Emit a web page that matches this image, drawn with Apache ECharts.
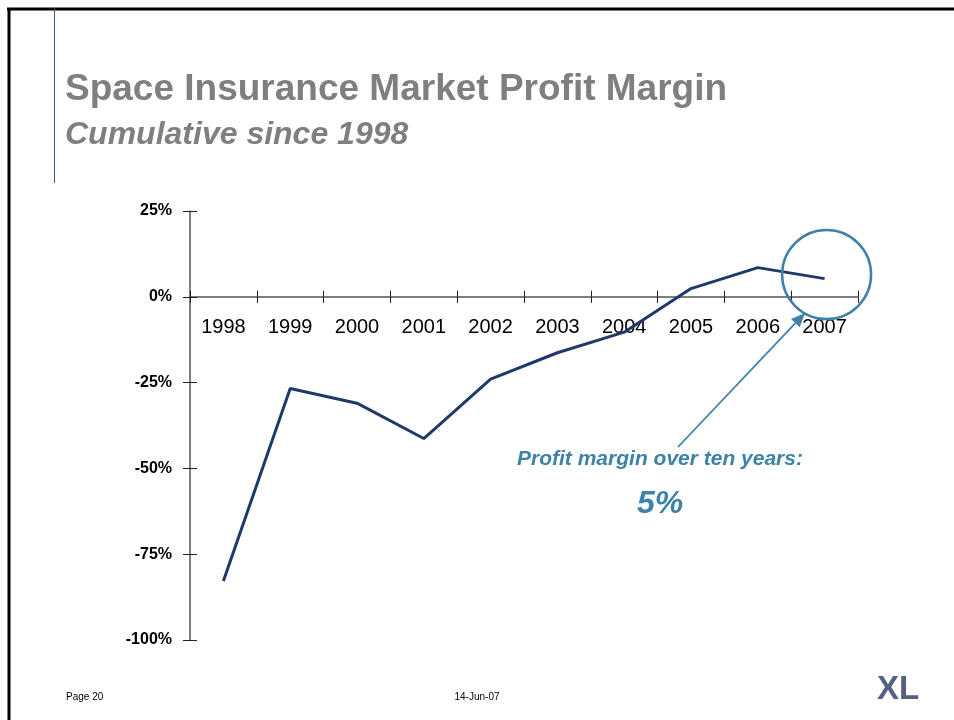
<!DOCTYPE html>
<html>
<head>
<meta charset="utf-8">
<title>Space Insurance Market Profit Margin</title>
<script src="https://cdn.jsdelivr.net/npm/echarts@6/dist/echarts.min.js"></script>
<style>
  html, body { margin: 0; padding: 0; background: #fff; }
  #chart { width: 954px; height: 720px; }
</style>
</head>
<body>
<div id="chart"></div>
<script>
// 数据：各年份累计利润率（%）
var years = ['1998', '1999', '2000', '2001', '2002', '2003', '2004', '2005', '2006', '2007']
var margin = [-82.8, -26.7, -31.0, -41.3, -24.0, -16.3, -10.3, 2.4, 8.5, 5.3]
var yTicks = [-100, -75, -50, -25, 0, 25]

var blue = '#3f82a8'
var font = 'Arial, Liberation Sans, sans-serif'

// 绘图区位置
var gLeft = 190, gTop = 211, gWidth = 668, gHeight = 429
var yMin = yTicks[0], yMax = yTicks[yTicks.length - 1]
// 0% 所在的像素位置，x 轴画在这里
var zeroY = gTop + gHeight * (yMax - 0) / (yMax - yMin)

var myChart = echarts.init(document.getElementById('chart'))

var option = {
  animation: false,
  grid: {
    left: gLeft,
    top: gTop,
    width: gWidth,
    height: gHeight,
    outerBoundsMode: 'none'
  },
  xAxis: [
    {
      type: 'category',
      data: years,
      position: 'bottom',
      offset: -(gTop + gHeight - zeroY),
      boundaryGap: true,
      axisLine: { show: true, onZero: false, lineStyle: { color: '#555', width: 1.5 } },
      axisTick: { show: true, interval: 0, alignWithLabel: false, length: 6, lineStyle: { color: '#222', width: 1 } },
      axisLabel: { margin: 21, color: '#000', fontFamily: font, fontSize: 20 }
    },
    {
      // 只用来画轴线上方的那半截刻度
      type: 'category',
      data: years,
      position: 'top',
      offset: -(zeroY - gTop),
      boundaryGap: true,
      axisLine: { show: false, onZero: false },
      axisTick: { show: true, interval: 0, alignWithLabel: false, length: 6, lineStyle: { color: '#222', width: 1 } },
      axisLabel: { show: false }
    }
  ],
  yAxis: [
    {
      type: 'value',
      min: yMin,
      max: yMax,
      interval: 25,
      splitLine: { show: false },
      axisLine: { show: true, onZero: false, lineStyle: { color: '#555', width: 1.5 } },
      axisTick: { show: true, length: 7, lineStyle: { color: '#222' } },
      axisLabel: {
        margin: 18,
        color: '#000',
        fontFamily: font,
        fontSize: 16,
        fontWeight: 'bold',
        formatter: '{value}%'
      }
    },
    {
      // 轴右侧的半截刻度
      type: 'value',
      position: 'right',
      offset: -gWidth,
      min: yMin,
      max: yMax,
      interval: 25,
      splitLine: { show: false },
      axisLine: { show: false, onZero: false },
      axisTick: { show: true, length: 7, lineStyle: { color: '#222' } },
      axisLabel: { show: false }
    }
  ],
  series: [
    {
      type: 'line',
      data: margin,
      showSymbol: false,
      symbol: 'none',
      lineStyle: { color: '#1f3a68', width: 3 }
    }
  ]
}
myChart.setOption(option)

// 标注：圆圈跟着 2007 年那个点走
var p = myChart.convertToPixel({ seriesIndex: 0 }, [years.length - 1, margin[margin.length - 1]])
var cx = p[0] + 2
var cy = p[1] - 4
// 箭头从说明文字指向圆圈
var ax0 = 678, ay0 = 447, ax1 = 805, ay1 = 313
var len = Math.sqrt((ax1 - ax0) * (ax1 - ax0) + (ay1 - ay0) * (ay1 - ay0))
var dx = (ax1 - ax0) / len, dy = (ay1 - ay0) / len
var bx = ax1 - 14 * dx, by = ay1 - 14 * dy

myChart.setOption({
  graphic: [
    // 页面边框
    { type: 'line', shape: { x1: 7, y1: 9, x2: 954, y2: 9 }, style: { stroke: '#000', lineWidth: 3 } },
    { type: 'line', shape: { x1: 9, y1: 8, x2: 9, y2: 720 }, style: { stroke: '#000', lineWidth: 3 } },
    { type: 'line', shape: { x1: 54.5, y1: 9, x2: 54.5, y2: 183 }, style: { stroke: '#3b5b95', lineWidth: 1 } },
    // 标题
    { type: 'text', x: 65, y: 90, style: { text: 'Space Insurance Market Profit Margin', font: 'bold 37px ' + font, fill: '#7f7f7f', align: 'left', verticalAlign: 'middle' } },
    { type: 'text', x: 65, y: 135, style: { text: 'Cumulative since 1998', font: 'italic bold 32px ' + font, fill: '#7f7f7f', align: 'left', verticalAlign: 'middle' } },
    // 圆圈和箭头
    { type: 'circle', z: 10, shape: { cx: cx, cy: cy, r: 44.5 }, style: { fill: 'none', stroke: blue, lineWidth: 2.5 } },
    { type: 'line', z: 10, shape: { x1: ax0, y1: ay0, x2: bx, y2: by }, style: { stroke: blue, lineWidth: 1.8 } },
    { type: 'polygon', z: 10, shape: { points: [[ax1, ay1], [bx + 6 * dy, by - 6 * dx], [bx - 6 * dy, by + 6 * dx]] }, style: { fill: blue } },
    { type: 'text', x: 660, y: 459, style: { text: 'Profit margin over ten years:', font: 'italic bold 21px ' + font, fill: blue, align: 'center', verticalAlign: 'middle' } },
    { type: 'text', x: 660, y: 504, style: { text: '5%', font: 'italic bold 32px ' + font, fill: blue, align: 'center', verticalAlign: 'middle' } },
    // 页脚
    { type: 'text', x: 66, y: 697, style: { text: 'Page 20', font: '10px ' + font, fill: '#000', align: 'left', verticalAlign: 'middle' } },
    { type: 'text', x: 477, y: 697, style: { text: '14-Jun-07', font: '10px ' + font, fill: '#000', align: 'center', verticalAlign: 'middle' } },
    { type: 'text', x: 898, y: 690, style: { text: 'XL', font: 'bold 33px ' + font, fill: '#56617f', align: 'center', verticalAlign: 'middle' } }
  ]
})
</script>
</body>
</html>
